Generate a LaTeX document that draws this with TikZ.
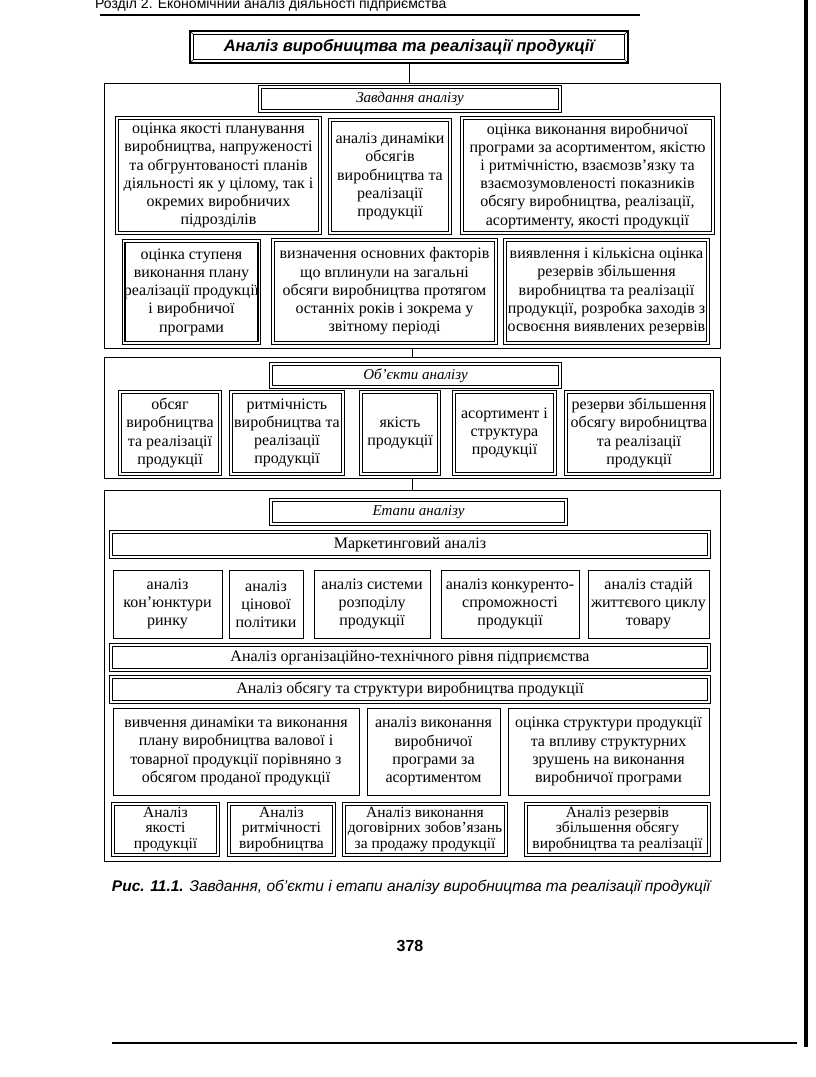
\documentclass[tikz,border=0pt]{standalone}
\usepackage{fontspec}
\setmainfont{Liberation Serif}
\setsansfont{Liberation Sans}

% box given by its corners (x1,y1) and (x2,y2)
\newcommand\boxat[7]{%
  \pgfmathsetmacro\bw{#5-#3}\pgfmathsetmacro\bh{#6-#4}%
  \node[#1, minimum width=\bw pt, minimum height=\bh pt] (#2) at ({(#3+#5)/2},{(#4+#6)/2}) {#7};}

\begin{document}
\begin{tikzpicture}[x=1pt, y=-1pt, line join=miter,
    font=\fontsize{16}{18.2}\selectfont,
    every node/.style={align=center, inner sep=0pt},
    secbox/.style={draw, line width=0.9pt},
    thinbox/.style={draw, line width=1pt},
    dblbox/.style={draw, double, double distance=1.3pt, line width=1.1pt},
    headtxt/.style={font=\fontsize{15}{18}\selectfont\itshape},
    bevelbox/.style={draw, line width=1.2pt, path picture={
        \draw[line width=0.8pt]
          ([shift={(3.5pt,-3.5pt)}]path picture bounding box.north west) rectangle
          ([shift={(-3.5pt,3.5pt)}]path picture bounding box.south east);
        \foreach \c/\dx/\dy in {north west/3.5pt/-3.5pt, north east/-3.5pt/-3.5pt,
                                south west/3.5pt/3.5pt, south east/-3.5pt/3.5pt}
          \draw[line width=0.6pt] (path picture bounding box.\c) -- ++(\dx,\dy);
      }}]
  \useasboundingbox (0,0) rectangle (816,1077);
  \clip (0,0) rectangle (816,1077);

  % === PAGE HEAD ===
  \node[anchor=base west, font=\sffamily\fontsize{14}{16}\selectfont] (runhead) at (95,8)
    {Розділ 2. Економічний аналіз діяльності підприємства};
  \draw[line width=1.6pt] (100,15) -- (640,15);

  % === TITLE ===
  \boxat{bevelbox, font=\sffamily\bfseries\itshape\fontsize{16.5}{18}\selectfont}{title}{190}{31}{628}{63}
    {Аналіз виробництва та реалізації продукції}

  % === ZAVDANNIA ===
  \boxat{secbox}{secTask}{104}{83}{720}{348}{}
  \boxat{dblbox, headtxt}{taskHead}{260}{87}{560}{111}{Завдання аналізу}
  \boxat{dblbox}{taskA}{117}{118}{320}{233}{оцінка якості планування\\виробництва, напруженості\\та обгрунтованості планів\\діяльності як у цілому, так і\\окремих виробничих\\підрозділів}
  \boxat{dblbox}{taskB}{330}{120}{450}{233}{аналіз динаміки\\обсягів\\виробництва та\\реалізації\\продукції}
  \boxat{dblbox}{taskC}{462}{118}{713}{233}{оцінка виконання виробничої\\програми за асортиментом, якістю\\і ритмічністю, взаємозв’язку та\\взаємозумовленості показників\\обсягу виробництва, реалізації,\\асортименту, якості продукції}
  \boxat{dblbox}{taskD}{125}{241}{258}{343}{оцінка ступеня\\виконання плану\\реалізації продукції\\і виробничої\\програми}
  \boxat{dblbox}{taskE}{273}{240}{496}{343}{визначення основних факторів\\що вплинули на загальні\\обсяги виробництва протягом\\останніх років і зокрема у\\звітному періоді}
  \boxat{dblbox}{taskF}{505}{240}{708}{343}{виявлення і кількісна оцінка\\резервів збільшення\\виробництва та реалізації\\продукції, розробка заходів з\\освоєння виявлених резервів}

  % === OBJEKTY ===
  \boxat{secbox}{secObj}{104}{357}{720}{478}{}
  \boxat{dblbox, headtxt}{objHead}{271}{364}{560}{387}{Об’єкти аналізу}
  \foreach \n/\xa/\xb/\t in {
      obj1/120/220/{обсяг\\виробництва\\та реалізації\\продукції},
      obj2/231/343/{ритмічність\\виробництва та\\реалізації\\продукції},
      obj3/361/439/{якість\\продукції},
      obj4/454/555/{асортимент і\\структура\\продукції},
      obj5/566/712/{резерви збільшення\\обсягу виробництва\\та реалізації\\продукції}} {
    \boxat{dblbox}{\n}{\xa}{392}{\xb}{474}{\t}
  }

  % === ETAPY ===
  \boxat{secbox}{secStage}{104}{490}{720}{861}{}
  \boxat{dblbox, headtxt}{stageHead}{271}{500}{566}{524}{Етапи аналізу}
  \boxat{dblbox}{market}{111}{532}{709}{557}{Маркетинговий аналіз}
  \boxat{thinbox}{mk1}{113}{570}{222}{638}{аналіз\\кон’юнктури\\ринку}
  \boxat{thinbox}{mk2}{229}{570}{303}{638}{аналіз\\цінової\\політики}
  \boxat{thinbox}{mk3}{314}{570}{430}{638}{аналіз системи\\розподілу\\продукції}
  \boxat{thinbox}{mk4}{441}{570}{579}{638}{аналіз конкуренто-\\спроможності\\продукції}
  \boxat{thinbox}{mk5}{588}{570}{709}{638}{аналіз стадій\\життєвого циклу\\товару}
  \boxat{dblbox}{orgTech}{111}{645}{709}{670}{Аналіз організаційно-технічного рівня підприємства}
  \boxat{dblbox}{volStruct}{111}{677}{709}{702}{Аналіз обсягу та структури виробництва продукції}
  \boxat{thinbox}{vs1}{113}{708}{359}{795}{вивчення динаміки та виконання\\плану виробництва валової і\\товарної продукції порівняно з\\обсягом проданої продукції}
  \boxat{thinbox}{vs2}{367}{708}{500}{795}{аналіз виконання\\виробничої\\програми за\\асортиментом}
  \boxat{thinbox}{vs3}{508}{708}{709}{795}{оцінка структури продукції\\та впливу структурних\\зрушень на виконання\\виробничої програми}
  \begin{scope}[font=\fontsize{15.5}{15.8}\selectfont]
    \boxat{dblbox}{fin1}{113}{804}{218}{855}{Аналіз\\якості\\продукції}
    \boxat{dblbox}{fin2}{229}{804}{334}{855}{Аналіз\\ритмічності\\виробництва}
    \boxat{dblbox}{fin3}{344}{804}{506}{855}{Аналіз виконання\\договірних зобов’язань\\за продажу продукції}
    \boxat{dblbox}{fin4}{526}{804}{709}{855}{Аналіз резервів\\збільшення обсягу\\виробництва та реалізації}
  \end{scope}

  % connectors
  \draw[line width=1pt] (title.south) -- (title.south |- secTask.north);
  \draw[line width=1pt] (secTask.south) -- (secObj.north);
  \draw[line width=1pt] (secObj.south) -- (secStage.north);

  % === CAPTION, PAGE ===
  \node[font=\sffamily\itshape\fontsize{15.5}{17}\selectfont] (caption) at (411,887)
    {\textbf{Рис. 11.1.} Завдання, об’єкти і етапи аналізу виробництва та реалізації продукції};
  \node[font=\sffamily\bfseries\fontsize{16}{18}\selectfont] (pagenum) at (410,946) {378};
  \draw[line width=1.3pt] (112,1043) -- (797,1043);
  \draw[line width=4pt] (806,0) -- (806,1047);
\end{tikzpicture}
\end{document}
